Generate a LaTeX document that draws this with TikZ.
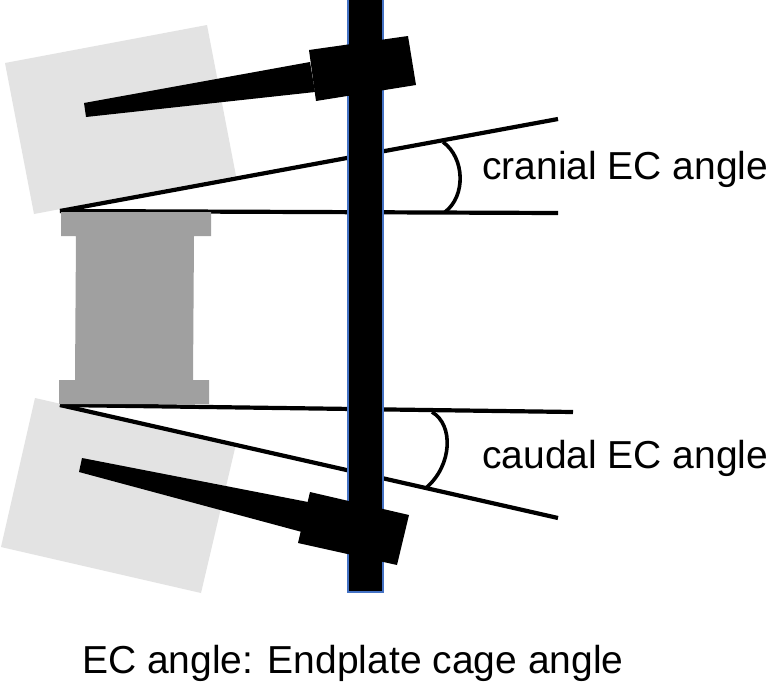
\documentclass[tikz,border=0pt]{standalone}
\usepackage{fontspec}
\setmainfont{Liberation Sans}
\usepackage[HTML]{xcolor}
\usetikzlibrary{positioning, arrows, arrows.meta}
\definecolor{bonegray}{HTML}{E3E3E3}
\definecolor{cagegray}{HTML}{A0A0A0}
\definecolor{rodblue}{HTML}{4472C4}

\tikzset{
  vertebra/.style={fill=bonegray, draw=none},
  implant/.style={fill=black, draw=none},
  plateline/.style={line width=4.2pt, line cap=butt},
  anglearc/.style={line width=3.6pt},
  lbl/.style={inner sep=0pt, font=\fontsize{39}{47}\selectfont}
}

\begin{document}
\begin{tikzpicture}[x=1pt, y=-1pt]
\useasboundingbox (0,0) rectangle (768,686);
\fill[white] (0,0) rectangle (768,686);
\fill[vertebra] (5,63) -- (207,25) -- (236,176) -- (34,214) -- cycle;
\fill[vertebra] (35,398) -- (236,444) -- (201,593) -- (1,547) -- cycle;
\coordinate (upV) at (60,211);
\coordinate (upE) at (558,119);
\coordinate (upH) at (558,213);
\coordinate (loV) at (60,405);
\coordinate (loH) at (573,412);
\coordinate (loE) at (558,518);
\draw[plateline] (upV) -- (upE);
\draw[plateline] (upV) -- (upH);
\draw[plateline] (loV) -- (loH);
\draw[plateline] (loV) -- (loE);
\fill[cagegray] (61,212) -- (211,212) -- (211,236) -- (194,236) -- (193,380)
  -- (209,380) -- (209,404) -- (59,404) -- (59,380) -- (75,380) -- (76,236)
  -- (61,236) -- cycle;
\fill[implant] (84,103) -- (310,62) -- (315,92) -- (86,117) -- cycle;
\fill[implant] (82,458) -- (308,502) -- (302,532) -- (79,472) -- cycle;
\filldraw[fill=black, draw=rodblue, line width=1.2pt] (348,-2) rectangle (383,592);
\fill[implant] (309,50) -- (408,36) -- (416,85) -- (316,101) -- cycle;
\fill[implant] (310,492) -- (409,515) -- (397,565) -- (298,543) -- cycle;
\coordinate (crA) at (443,142);
\coordinate (crB) at (445,212);
\coordinate (caA) at (432,412);
\coordinate (caB) at (427,487);
\draw[anglearc] (crA) .. controls (465,158) and (466,196) .. (crB);
\draw[anglearc] (caA) .. controls (454,425) and (452,465) .. (caB);
\node[lbl, anchor=base west] (cranial) at (482,179) {cranial EC angle};
\node[lbl, anchor=base west] (caudal) at (482,468) {caudal EC angle};
\node[lbl, anchor=base west] (legend) at (82,673) {EC angle: Endplate cage angle};
\end{tikzpicture}
\end{document}
